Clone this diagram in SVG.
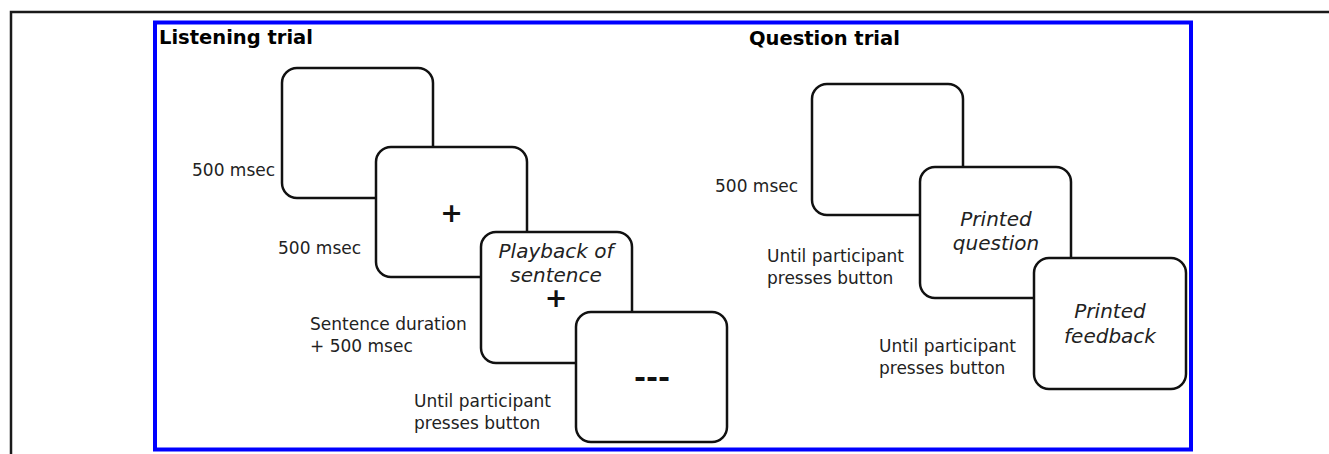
<svg xmlns="http://www.w3.org/2000/svg" width="1329" height="454" viewBox="0 0 1329 454">
<style>
.frame{fill:none;stroke:#1a1a1a;stroke-width:2.5}
.blue{fill:none;stroke:#0000ff;stroke-width:4}
.box{fill:#fff;stroke:#111;stroke-width:2.5}
.title{font-family:"DejaVu Sans",sans-serif;font-weight:bold;font-size:19.5px;fill:#000}
.lbl{font-family:"DejaVu Sans",sans-serif;font-size:17px;fill:#222}
.it{font-family:"DejaVu Sans",sans-serif;font-style:italic;font-size:20px;fill:#222;text-anchor:middle}
.sym{font-family:"DejaVu Sans",sans-serif;font-weight:bold;fill:#111;text-anchor:middle}
</style>
<path class="frame" d="M11,454 V12 H1329"/>
<rect class="blue" x="155" y="22.5" width="1036" height="427"/>
<text class="title" x="159" y="44">Listening trial</text>
<text class="title" x="749" y="45">Question trial</text>
<g id="connectors"></g>
<g id="listen-1"><rect class="box" x="282" y="68" width="151" height="130" rx="15"/></g>
<g id="listen-2"><rect class="box" x="376" y="147" width="151" height="130" rx="15"/>
<text class="sym" x="451.5" y="222" font-size="27">+</text></g>
<g id="listen-3"><rect class="box" x="481" y="232" width="151" height="131" rx="15"/>
<text class="it" x="556" y="258">Playback of</text>
<text class="it" x="556" y="282">sentence</text>
<text class="sym" x="556" y="307" font-size="27">+</text></g>
<g id="listen-4"><rect class="box" x="576" y="312" width="151" height="130" rx="15"/>
<text class="sym" x="652" y="387" font-size="29">---</text></g>
<g id="question-1"><rect class="box" x="812" y="84" width="151" height="131" rx="15"/></g>
<g id="question-2"><rect class="box" x="920" y="167" width="151" height="131" rx="15"/>
<text class="it" x="996" y="226">Printed</text>
<text class="it" x="996" y="250">question</text></g>
<g id="question-3"><rect class="box" x="1034" y="258" width="152" height="131" rx="15"/>
<text class="it" x="1110" y="318">Printed</text>
<text class="it" x="1110" y="343">feedback</text></g>
<g id="labels">
<text class="lbl" x="192" y="176">500 msec</text>
<text class="lbl" x="278" y="254">500 msec</text>
<text class="lbl" x="310" y="330">Sentence duration</text>
<text class="lbl" x="310" y="352">+ 500 msec</text>
<text class="lbl" x="414" y="407">Until participant</text>
<text class="lbl" x="414" y="429">presses button</text>
<text class="lbl" x="715" y="192">500 msec</text>
<text class="lbl" x="767" y="262">Until participant</text>
<text class="lbl" x="767" y="284">presses button</text>
<text class="lbl" x="879" y="352">Until participant</text>
<text class="lbl" x="879" y="374">presses button</text>
</g>
</svg>
